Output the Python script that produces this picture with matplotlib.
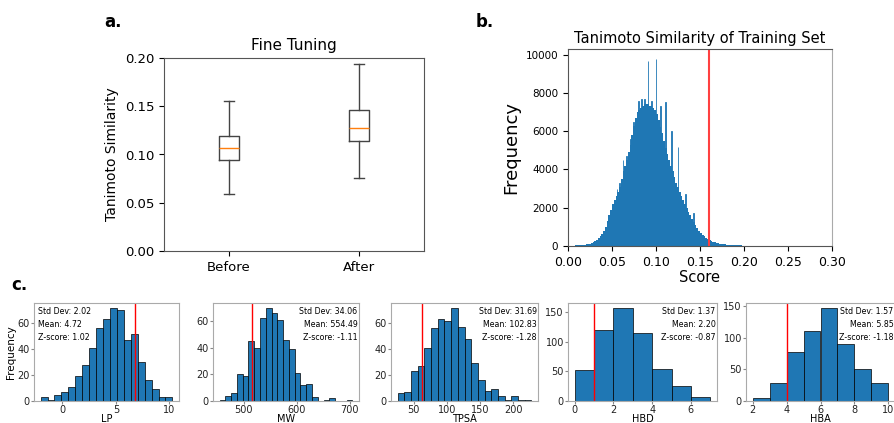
import numpy as np
import matplotlib.pyplot as plt

# --- a. fine tuning boxplot ---
box_labels = ['Before', 'After']
box_low = [0.059, 0.076]
box_q1 = [0.094, 0.114]
box_med = [0.107, 0.127]
box_q3 = [0.119, 0.146]
box_high = [0.155, 0.194]

# --- b. training set similarity histogram ---
score_start = 0.0
score_step = 0.002
score_counts = [
    0, 0, 10, 20, 40, 50, 40, 50, 60, 60,
    80, 100, 120, 150, 200, 250, 300, 400, 500, 650,
    800, 1000, 1300, 1600, 1900, 2200, 2400, 2600, 2800, 3100,
    3500, 3900, 4200, 4500, 4900, 5300, 5800, 6300, 6700, 7000,
    7100, 7200, 7300, 7400, 7400, 7400, 7300, 7300, 7200, 7100,
    6900, 6600, 6200, 5900, 5500, 5100, 4800, 4500, 4200, 3900,
    3600, 3300, 3100, 2800, 2600, 2400, 2200, 2000, 1800, 1600,
    1400, 1250, 1100, 950, 800, 700, 600, 500, 430, 370,
    320, 270, 230, 200, 170, 150, 130, 110, 95, 85,
    75, 65, 60, 55, 50, 45, 40, 35, 30, 25,
    20, 18, 15, 12, 10, 8, 5, 3, 0, 0,
]
spike_scores = [0.0556, 0.0588, 0.0625, 0.0667, 0.0714, 0.0741, 0.0769, 0.0800,
                0.0833, 0.0870, 0.0909, 0.0952, 0.1000, 0.1053, 0.1111, 0.1176,
                0.1250, 0.1333, 0.1429]
spike_counts = [3000, 3300, 4500, 4700, 5600, 6500, 6600, 7600,
                7700, 7700, 9650, 7600, 9800, 7300, 7550, 6000,
                5200, 2700, 1700]
threshold = 0.16

# --- c. property distributions ---
prop_names = ['LP', 'MW', 'TPSA', 'HBD', 'HBA']
prop_ranges = [(-2.05, 10.3), (455, 705), (26.2, 227), (0, 7), (2, 10)]
prop_counts = [
    [3, 1, 5, 7, 11, 19, 28, 41, 56, 63, 72, 70, 47, 52, 30, 16, 9, 3, 3],
    [1, 4, 6, 20, 19, 45, 40, 62, 70, 66, 61, 46, 39, 21, 12, 13, 3, 0, 1, 2, 0, 0, 1],
    [6, 7, 23, 27, 41, 56, 63, 62, 72, 57, 48, 29, 16, 8, 9, 4, 1, 4, 1, 1],
    [53, 121, 158, 115, 55, 26, 7],
    [4, 28, 77, 110, 147, 90, 50, 29],
]
prop_std = [2.02, 34.06, 31.69, 1.37, 1.57]
prop_mean = [4.72, 554.49, 102.83, 2.20, 5.85]
prop_z = [1.02, -1.11, -1.28, -0.87, -1.18]
prop_xticks = [[0, 5, 10], [500, 600, 700], [50, 100, 150, 200], [0, 2, 4, 6], [2, 4, 6, 8, 10]]
prop_yticks = [[0, 20, 40, 60], [0, 20, 40, 60], [0, 20, 40, 60], [0, 50, 100, 150], [0, 50, 100, 150]]

W, H = 894, 423
fig = plt.figure(figsize=(W / 100, H / 100), dpi=100)


def box(l, t, r, b):
    return [l / W, 1 - b / H, (r - l) / W, (b - t) / H]


# a.
ax_a = fig.add_axes(box(164, 58, 424, 251))
stats = []
for i in range(len(box_labels)):
    stats.append({'label': box_labels[i], 'whislo': box_low[i], 'q1': box_q1[i],
                  'med': box_med[i], 'q3': box_q3[i], 'whishi': box_high[i], 'fliers': []})
grey = '#444444'
ax_a.bxp(stats, showfliers=False,
         boxprops={'color': grey}, whiskerprops={'color': grey}, capprops={'color': grey})
ax_a.set_ylim(0, 0.2)
ax_a.set_yticks([0, 0.05, 0.10, 0.15, 0.20])
ax_a.set_title('Fine Tuning', fontsize=11)
ax_a.set_ylabel('Tanimoto Similarity', fontsize=10)
ax_a.tick_params(labelsize=9.5)
for s in ax_a.spines.values():
    s.set_color('#555555')

# b.
ax_b = fig.add_axes(box(568, 49, 832, 246))
edges = score_start + score_step * np.arange(len(score_counts) + 1)
ax_b.hist(edges[:-1], bins=edges, weights=score_counts, color='#1f77b4')
ax_b.bar(spike_scores, spike_counts, width=0.0008, color='#1f77b4',
         edgecolor='#1f77b4', linewidth=0.6)
ax_b.axvline(threshold, color='#ff4040', lw=1.5)
ax_b.set_xlim(0, 0.3)
ax_b.set_ylim(0, 10300)
ax_b.set_title('Tanimoto Similarity of Training Set', fontsize=10.5, pad=4)
ax_b.set_xlabel('Score', fontsize=10.5, labelpad=1)
ax_b.set_ylabel('Frequency', fontsize=13)
ax_b.tick_params(axis='x', labelsize=9)
ax_b.tick_params(axis='y', labelsize=7.5)
for s in ax_b.spines.values():
    s.set_color('#555555')
ax_b.spines['right'].set_color('#aaaaaa')

# c.
lefts = [34, 213, 391, 568, 746]
rights = [179, 359, 538, 717, 895]
for i, name in enumerate(prop_names):
    ax = fig.add_axes(box(lefts[i], 303, rights[i], 401))
    lo, hi = prop_ranges[i]
    e = np.linspace(lo, hi, len(prop_counts[i]) + 1)
    ax.hist(e[:-1], bins=e, weights=prop_counts[i], color='#1f77b4',
            edgecolor='black', linewidth=0.5)
    ax.axvline(prop_mean[i] + prop_z[i] * prop_std[i], color='red', lw=1)
    txt = f'Std Dev: {prop_std[i]:.2f}\nMean: {prop_mean[i]:.2f}\nZ-score: {prop_z[i]:.2f}'
    if i == 0:
        ax.text(0.03, 0.96, txt, transform=ax.transAxes, ha='left', va='top',
                fontsize=5.7, linespacing=1.55)
    else:
        ax.text(0.99, 0.96, txt, transform=ax.transAxes, ha='right', va='top',
                fontsize=5.7, linespacing=1.55)
    ax.set_xticks(prop_xticks[i])
    ax.set_yticks(prop_yticks[i])
    ax.tick_params(labelsize=7, length=2, pad=1, color='#888888', labelcolor='#222222')
    ax.set_xlabel(name, fontsize=7, labelpad=-1)
    if i == 0:
        ax.set_ylabel('Frequency', fontsize=7.5, labelpad=1)
    for s in ax.spines.values():
        s.set_color('#aaaaaa')

fig.text(113 / W, 1 - 22 / H, 'a.', fontsize=12, fontweight='bold', ha='center', va='center')
fig.text(485 / W, 1 - 22 / H, 'b.', fontsize=12, fontweight='bold', ha='center', va='center')
fig.text(19 / W, 1 - 285 / H, 'c.', fontsize=12, fontweight='bold', ha='center', va='center')

fig.savefig('out.png', dpi=100)
